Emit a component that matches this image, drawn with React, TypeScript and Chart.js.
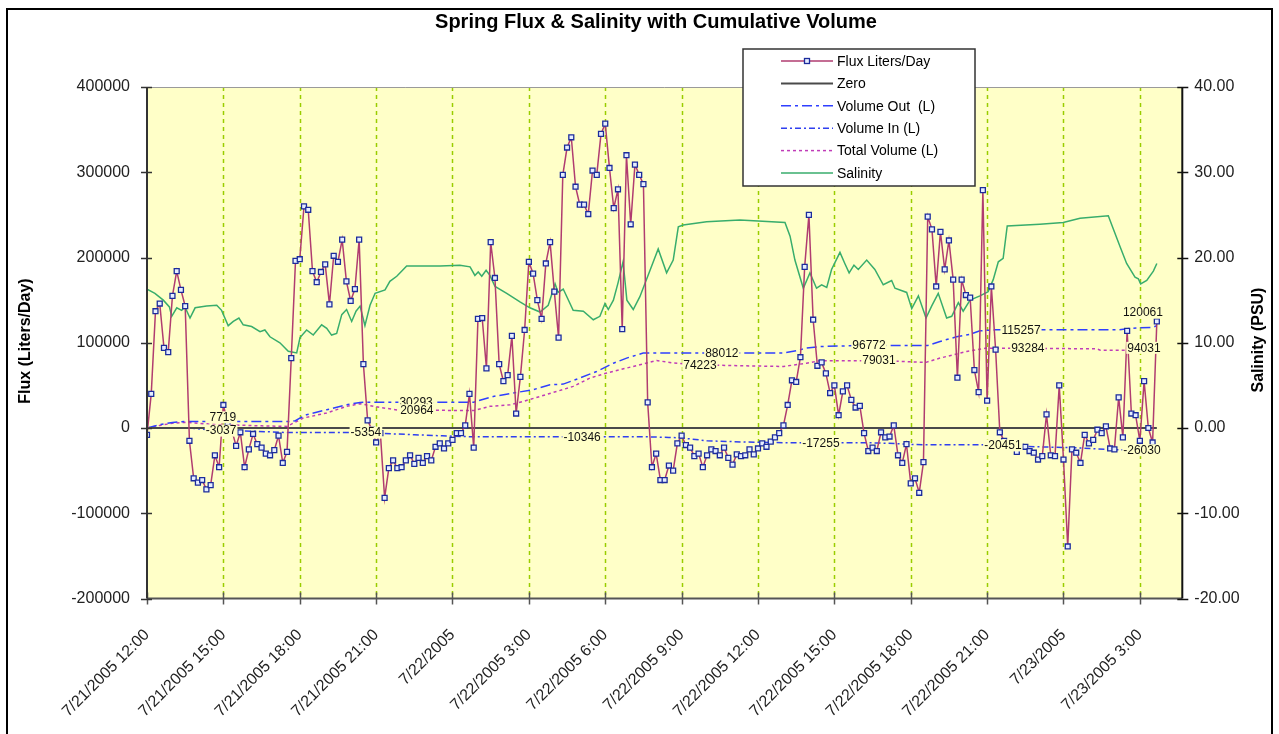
import React, { useEffect, useRef } from "react";
import { Chart, registerables } from "chart.js";

Chart.register(...registerables);

const FONT = "'Liberation Sans', Arial, sans-serif";

// ---------------- DATA ----------------
const titleText = "Spring Flux & Salinity with Cumulative Volume";
const leftAxisTitle = "Flux (Liters/Day)";
const rightAxisTitle = "Salinity (PSU)";

const xTickHours = [0, 3, 6, 9, 12, 15, 18, 21, 24, 27, 30, 33, 36, 39];
const xTickLabels = [
  "7/21/2005 12:00", "7/21/2005 15:00", "7/21/2005 18:00", "7/21/2005 21:00",
  "7/22/2005", "7/22/2005 3:00", "7/22/2005 6:00", "7/22/2005 9:00",
  "7/22/2005 12:00", "7/22/2005 15:00", "7/22/2005 18:00", "7/22/2005 21:00",
  "7/23/2005", "7/23/2005 3:00",
];
const xMinHour = 0;
const xMaxHour = 40.667;

const fluxTicks = [-200000, -100000, 0, 100000, 200000, 300000, 400000];
const salinityTicks = [-20, -10, 0, 10, 20, 30, 40];

// Flux sampled every 10 minutes from 7/21/2005 12:00
const fluxStepMinutes = 10;
const fluxValues = [
  -8000, 40000, 137000, 146000, 94000, 89000, 155000, 184000, 162000, 143000,
  -15000, -59000, -64000, -61000, -72000, -67000, -32000, -46000, 27000, 6000,
  -3000, -21000, -5000, -46000, -25000, -7000, -19000, -23000, -30000, -32000,
  -26000, -9000, -41000, -28000, 82000, 196000, 198000, 260000, 256000, 184000,
  171000, 183000, 192000, 145000, 202000, 195000, 221000, 172000, 149000, 163000,
  221000, 75000, 9000, -2000, -17000, -6000, -82000, -47000, -38000, -47000,
  -46000, -38000, -32000, -42000, -35000, -41000, -33000, -38000, -22000, -18000,
  -24000, -18000, -14000, -6000, -6000, 3000, 40000, -23000, 128000, 129000,
  70000, 218000, 176000, 75000, 55000, 62000, 108000, 17000, 60000, 115000,
  195000, 181000, 150000, 128000, 193000, 218000, 160000, 106000, 297000, 329000,
  341000, 283000, 262000, 262000, 251000, 302000, 297000, 345000, 357000, 305000,
  258000, 280000, 116000, 320000, 239000, 309000, 297000, 286000, 30000, -46000,
  -30000, -61000, -61000, -44000, -50000, -18000, -9000, -20000, -23000, -33000,
  -30000, -46000, -32000, -25000, -27000, -32000, -23000, -35000, -43000, -31000,
  -33000, -32000, -25000, -31000, -24000, -18000, -22000, -16000, -11000, -6000,
  3000, 27000, 56000, 54000, 83000, 189000, 250000, 127000, 73000, 77000,
  64000, 41000, 50000, 15000, 43000, 50000, 33000, 24000, 26000, -6000,
  -27000, -23000, -27000, -5000, -11000, -10000, 3000, -32000, -41000, -19000,
  -65000, -59000, -76000, -40000, 248000, 233000, 166000, 230000, 186000, 220000,
  174000, 59000, 174000, 156000, 153000, 68000, 42000, 279000, 32000, 166000,
  92000, -5000, -15000, -20000, -22000, -28000, -22000, -22000, -27000, -29000,
  -37000, -33000, 16000, -32000, -33000, 50000, -37000, -139000, -25000, -29000,
  -41000, -8000, -18000, -14000, -2000, -6000, 2000, -24000, -25000, 36000,
  -11000, 114000, 17000, 15000, -15000, 55000, 0, -17000, 125000,
];

const zeroHours = [0, 39.667];
const zeroValues = [0, 0];

const volumeOutHours = [
  0, 0.5, 1.0, 1.5, 5.67, 5.83, 6.0, 6.27, 7.06, 7.84, 8.37, 8.5, 12.83, 13.6, 14.39,
  15.17, 15.83, 16.35, 17.0, 17.66, 18.32, 18.84, 19.49, 19.67, 25.0, 25.5, 25.91,
  26.43, 28.0, 30.67, 31.15, 31.8, 32.33, 32.72, 33.33, 38.17, 38.5, 39.0, 39.5, 39.667,
];
const volumeOutValues = [
  0, 3900, 6500, 7719, 7719, 8500, 11500, 15600, 21400, 27300, 30000, 30293, 30293, 37000, 41000,
  45000, 50700, 51500, 58600, 66300, 76000, 82000, 87900, 88012, 88012, 90500, 93700,
  95600, 96772, 96772, 101500, 107000, 110000, 114000, 115257, 115257, 116500, 117500, 118000, 120061,
];

const volumeInHours = [
  0, 1.67, 2.2, 2.83, 3.33, 4.4, 5.5, 8.83, 9.6, 10.5, 11.6, 12.83, 19.67, 20.5, 21.0,
  22.0, 23.5, 25.0, 28.17, 29.0, 30.2, 33.0, 33.5, 34.3, 36.65, 37.9, 39.667,
];
const volumeInValues = [
  0, -100, -1400, -3037, -3100, -4000, -5354, -5354, -6800, -7900, -9200, -10346, -10346, -11000, -11700,
  -15000, -16500, -17255, -17255, -17800, -19500, -19600, -20451, -21500, -23400, -25400, -26030,
];

const totalVolumeHours = [
  0, 0.5, 1.0, 1.5, 2.0, 2.83, 3.5, 4.5, 5.5, 6.14, 7.06, 7.84, 8.37, 8.9, 9.94, 10.6,
  12.83, 13.47, 14.26, 14.78, 15.44, 16.09, 16.74, 17.4, 18.06, 18.84, 19.63, 20.02,
  20.67, 21.72, 23.29, 25.0, 25.91, 26.43, 28.75, 30.6, 31.15, 32.2, 32.98, 34.6,
  37.3, 37.45, 38.9, 39.667,
];
const totalVolumeValues = [
  0, 3000, 5500, 6600, 5500, 3900, 3500, 2500, 1900, 11700, 17600, 25400, 28500, 25400, 20600, 20964,
  20400, 25400, 27300, 31200, 37000, 42900, 48800, 58600, 64500, 70300, 76200, 79200,
  76200, 74223, 73000, 72200, 76000, 79000, 79031, 77000, 82000, 89800, 93700, 93284,
  93000, 91200, 91200, 94031,
];

const salinityHours = [
  0, 0.31, 0.64, 0.88, 0.97, 1.17, 1.36, 1.49, 1.69, 1.89, 2.34, 2.74, 2.93, 3.19, 3.39,
  3.61, 3.78, 4.11, 4.44, 4.63, 4.83, 5.22, 5.55, 5.88, 6.01, 6.27, 6.53, 6.86, 7.06,
  7.25, 7.45, 7.65, 7.84, 8.04, 8.21, 8.37, 8.56, 8.76, 8.96, 9.35, 9.54, 9.81, 10.2,
  11.51, 12.29, 12.69, 12.88, 13.01, 13.15, 13.32, 13.47, 13.67, 14.13, 14.65, 15.04,
  15.44, 15.76, 16.03, 16.15, 16.35, 16.74, 17.14, 17.53, 17.79, 17.99, 18.12, 18.32,
  18.5, 18.7, 18.85, 19.1, 19.36, 19.76, 20.08, 20.41, 20.67, 20.87, 21.06, 21.98,
  23.29, 25.06, 25.26, 25.45, 25.78, 26.04, 26.3, 26.5, 26.7, 26.89, 27.22, 27.41,
  27.58, 27.77, 27.94, 28.27, 28.59, 28.92, 29.25, 29.38, 29.84, 30.04, 30.3, 30.6,
  30.82, 31.08, 31.41, 31.61, 31.87, 32.06, 32.33, 32.72, 33.04, 33.24, 33.44, 33.63,
  33.79, 35.07, 35.99, 36.65, 37.76, 37.95, 38.22, 38.48, 38.81, 38.94, 39.03, 39.27,
  39.53, 39.667,
];
const salinityValues = [
  16.3, 15.8, 15.0, 14.2, 13.1, 14.1, 13.8, 14.2, 12.9, 14.1, 14.3, 14.4, 13.8, 12.0, 12.5,
  12.9, 12.1, 11.9, 11.3, 11.5, 10.7, 10.0, 9.0, 8.8, 10.6, 11.5, 10.9, 12.1, 11.7,
  10.9, 11.1, 13.3, 13.9, 12.5, 13.7, 14.3, 12.0, 14.4, 15.8, 16.2, 17.2, 17.8, 19.0,
  19.0, 19.1, 18.9, 17.9, 18.3, 17.8, 18.5, 17.9, 16.6, 15.8, 14.8, 14.1,
  13.6, 14.4, 16.9, 15.9, 16.3, 13.8, 13.7, 12.7, 13.1, 14.6, 13.9, 15.0,
  17.0, 19.5, 15.0, 13.9, 15.4, 18.5, 21.0, 18.2, 19.7, 23.6, 23.8, 24.2,
  24.4, 24.1, 22.5, 19.7, 16.4, 18.2, 16.4, 16.8, 16.5, 18.6, 20.6, 19.3,
  18.2, 19.1, 18.6, 19.7, 18.6, 16.8, 17.3, 16.4, 15.9, 14.0, 15.5, 12.9,
  14.3, 15.8, 12.9, 13.1, 14.7, 13.7, 15.0, 15.5, 16.0, 17.4, 19.5, 19.9,
  23.7, 23.9, 24.1, 24.6, 24.9, 23.4, 21.3, 19.3, 17.7, 17.5, 16.9, 17.3,
  18.4, 19.3,
];

// Data labels on the cumulative lines
const volumeOutLabelHours = [2.98, 10.57, 22.58, 28.36, 34.33, 39.12];
const volumeOutLabelValues = [7719, 30293, 88012, 96772, 115257, 120061];
const volumeInLabelHours = [2.91, 8.6, 17.09, 26.47, 33.62, 39.08];
const volumeInLabelValues = [-3037, -5354, -10346, -17255, -20451, -26030];
const totalLabelHours = [10.6, 21.72, 28.75, 34.6, 39.16];
const totalLabelValues = [20964, 74223, 79031, 93284, 94031];

// ---------------- STYLE ----------------
const PLOT_BG = "#FFFFC8";
const GRID_COLOR = "#9ACD00";
const FLUX_COLOR = "#B03C70";
const OUT_COLOR = "#2F3FFF";
const IN_COLOR = "#2F3FEF";
const TOTAL_COLOR = "#C03CB8";
const SAL_COLOR = "#38AD6C";

const pts = (xs: number[], ys: number[]) => ys.map((y, i) => ({ x: xs[i], y }));

const decorPlugin = {
  id: "decor",
  beforeDraw(chart: any) {
    const { ctx, chartArea: a } = chart;
    ctx.save();
    ctx.fillStyle = "#ffffff";
    ctx.fillRect(0, 0, chart.width, chart.height);
    ctx.fillStyle = PLOT_BG;
    ctx.fillRect(a.left, a.top, a.right - a.left, a.bottom - a.top);
    const xs = chart.scales.x;
    ctx.strokeStyle = GRID_COLOR;
    ctx.lineWidth = 1.5;
    ctx.setLineDash([4, 4]);
    xTickHours.forEach((h) => {
      if (h === xMinHour) return;
      const px = Math.round(xs.getPixelForValue(h)) + 0.5;
      ctx.beginPath();
      ctx.moveTo(px, a.top);
      ctx.lineTo(px, a.bottom);
      ctx.stroke();
    });
    ctx.restore();
  },
  afterDatasetsDraw(chart: any) {
    const { ctx } = chart;
    const xs = chart.scales.x;
    const ys = chart.scales.y;
    ctx.save();
    ctx.font = `12px ${FONT}`;
    ctx.textAlign = "center";
    ctx.textBaseline = "middle";
    const draw = (hrs: number[], vals: number[], dyFirst: number, dyLast: number) => {
      hrs.forEach((h, i) => {
        const px = xs.getPixelForValue(h);
        let py = ys.getPixelForValue(vals[i]);
        if (i === 0) py += dyFirst;
        if (i === hrs.length - 1) py += dyLast;
        const t = String(vals[i]);
        const w = ctx.measureText(t).width;
        ctx.fillStyle = PLOT_BG;
        ctx.fillRect(px - w / 2 - 1, py - 6, w + 2, 12);
        ctx.fillStyle = "#111";
        ctx.fillText(t, px, py + 0.5);
      });
    };
    draw(volumeOutLabelHours, volumeOutLabelValues, -4, -13);
    draw(volumeInLabelHours, volumeInLabelValues, 0, 0);
    draw(totalLabelHours, totalLabelValues, 0, 0);
    ctx.restore();
  },
  afterDraw(chart: any) {
    const { ctx, chartArea: a } = chart;
    const xs = chart.scales.x;
    const ys = chart.scales.y;
    const y1 = chart.scales.y1;
    ctx.save();
    ctx.setLineDash([]);
    // top border of plot
    ctx.strokeStyle = "#9a9a9a";
    ctx.lineWidth = 1;
    ctx.beginPath();
    ctx.moveTo(a.left, a.top + 0.5);
    ctx.lineTo(a.right, a.top + 0.5);
    ctx.stroke();
    // bottom axis
    ctx.strokeStyle = "#555";
    ctx.lineWidth = 2;
    ctx.beginPath();
    ctx.moveTo(a.left, a.bottom);
    ctx.lineTo(a.right, a.bottom);
    ctx.stroke();
    ctx.lineWidth = 1.5;
    xTickHours.forEach((h) => {
      const px = Math.round(xs.getPixelForValue(h)) + 0.5;
      ctx.beginPath();
      ctx.moveTo(px, a.bottom - 6);
      ctx.lineTo(px, a.bottom + 6);
      ctx.stroke();
    });
    // left axis
    ctx.strokeStyle = "#333";
    ctx.lineWidth = 2;
    ctx.beginPath();
    ctx.moveTo(a.left, a.top);
    ctx.lineTo(a.left, a.bottom);
    ctx.stroke();
    ctx.lineWidth = 1.5;
    fluxTicks.forEach((v) => {
      const py = Math.round(ys.getPixelForValue(v)) + 0.5;
      ctx.beginPath();
      ctx.moveTo(a.left - 6, py);
      ctx.lineTo(a.left + 5, py);
      ctx.stroke();
    });
    // right axis
    ctx.strokeStyle = "#111";
    ctx.lineWidth = 2;
    ctx.beginPath();
    ctx.moveTo(a.right, a.top);
    ctx.lineTo(a.right, a.bottom);
    ctx.stroke();
    ctx.lineWidth = 1.5;
    salinityTicks.forEach((v) => {
      const py = Math.round(y1.getPixelForValue(v)) + 0.5;
      ctx.beginPath();
      ctx.moveTo(a.right - 5, py);
      ctx.lineTo(a.right + 6, py);
      ctx.stroke();
    });

    // title
    ctx.fillStyle = "#000";
    ctx.font = `bold 20px ${FONT}`;
    ctx.textAlign = "center";
    ctx.textBaseline = "middle";
    ctx.fillText(titleText, 656, 22);

    // axis titles
    ctx.font = `bold 16px ${FONT}`;
    ctx.save();
    ctx.translate(26, 341);
    ctx.rotate(-Math.PI / 2);
    ctx.fillText(leftAxisTitle, 0, 0);
    ctx.restore();
    ctx.save();
    ctx.translate(1259, 340);
    ctx.rotate(-Math.PI / 2);
    ctx.fillText(rightAxisTitle, 0, 0);
    ctx.restore();

    // legend
    const lx = 743, ly = 49, lw = 232, lh = 137;
    ctx.fillStyle = "#fff";
    ctx.fillRect(lx, ly, lw, lh);
    ctx.strokeStyle = "#333";
    ctx.lineWidth = 1.5;
    ctx.strokeRect(lx, ly, lw, lh);
    ctx.font = `14px ${FONT}`;
    ctx.textAlign = "left";
    chart.data.datasets.forEach((ds: any, i: number) => {
      const ry = 61 + i * 22.4;
      ctx.save();
      ctx.strokeStyle = ds.borderColor;
      ctx.lineWidth = ds.borderWidth;
      ctx.setLineDash(ds.borderDash || []);
      ctx.beginPath();
      ctx.moveTo(781, ry);
      ctx.lineTo(833, ry);
      ctx.stroke();
      ctx.setLineDash([]);
      if (ds.pointRadius > 0) {
        ctx.fillStyle = ds.pointBackgroundColor;
        ctx.strokeStyle = ds.pointBorderColor;
        ctx.lineWidth = ds.pointBorderWidth;
        ctx.fillRect(804.5, ry - 2.5, 5, 5);
        ctx.strokeRect(804.5, ry - 2.5, 5, 5);
      }
      ctx.restore();
      ctx.fillStyle = "#000";
      ctx.fillText(ds.label, 837, ry + 1);
    });

    // chart border
    ctx.strokeStyle = "#000";
    ctx.lineWidth = 2;
    ctx.strokeRect(7, 9, 1265, 760);
    ctx.restore();
  },
};

export default function App() {
  const ref = useRef<HTMLCanvasElement>(null);
  useEffect(() => {
    if (!ref.current) return;
    const fluxPoints = fluxValues.map((v, i) => ({ x: (i * fluxStepMinutes) / 60, y: v }));
    const chart = new Chart(ref.current, {
      type: "line",
      data: {
        datasets: [
          {
            label: "Flux Liters/Day",
            data: fluxPoints,
            yAxisID: "y",
            borderColor: FLUX_COLOR,
            borderWidth: 1.5,
            pointStyle: "rect",
            pointRadius: 3.5,
            pointBorderWidth: 1.3,
            pointBorderColor: "#1C2C9C",
            pointBackgroundColor: "#E6EEFF",
          },
          {
            label: "Zero",
            data: pts(zeroHours, zeroValues),
            yAxisID: "y",
            borderColor: "#4a4a4a",
            borderWidth: 2,
            pointRadius: 0,
          },
          {
            label: "Volume Out  (L)",
            data: pts(volumeOutHours, volumeOutValues),
            yAxisID: "y",
            borderColor: OUT_COLOR,
            borderWidth: 1.5,
            borderDash: [10, 4, 3, 4],
            pointRadius: 0,
          },
          {
            label: "Volume In (L)",
            data: pts(volumeInHours, volumeInValues),
            yAxisID: "y",
            borderColor: IN_COLOR,
            borderWidth: 1.5,
            borderDash: [6, 3, 2, 3],
            pointRadius: 0,
          },
          {
            label: "Total Volume (L)",
            data: pts(totalVolumeHours, totalVolumeValues),
            yAxisID: "y",
            borderColor: TOTAL_COLOR,
            borderWidth: 1.5,
            borderDash: [3, 3],
            pointRadius: 0,
          },
          {
            label: "Salinity",
            data: pts(salinityHours, salinityValues),
            yAxisID: "y1",
            borderColor: SAL_COLOR,
            borderWidth: 1.5,
            pointRadius: 0,
          },
        ],
      } as any,
      options: {
        responsive: false,
        animation: false,
        parsing: false as any,
        layout: { padding: { top: 87, left: 0, right: 0, bottom: 0 } },
        plugins: {
          legend: { display: false },
          title: { display: false },
          tooltip: { enabled: false },
        },
        elements: { line: { tension: 0 } },
        scales: {
          x: {
            type: "linear",
            min: xMinHour,
            max: xMaxHour,
            grid: { display: false, drawTicks: false },
            border: { display: false },
            afterBuildTicks: (s: any) => {
              s.ticks = xTickHours.map((v) => ({ value: v }));
            },
            afterFit: (s: any) => {
              s.height = 734 - 598.5;
            },
            ticks: {
              autoSkip: false,
              minRotation: 45,
              maxRotation: 45,
              padding: 27,
              color: "#222",
              font: { family: FONT, size: 16 },
              callback: (v: any) => {
                const i = xTickHours.indexOf(Number(v));
                return i >= 0 ? xTickLabels[i] : "";
              },
            },
          },
          y: {
            type: "linear",
            position: "left",
            min: -200000,
            max: 400000,
            grid: { display: false, drawTicks: false },
            border: { display: false },
            afterBuildTicks: (s: any) => {
              s.ticks = fluxTicks.map((v) => ({ value: v }));
            },
            afterFit: (s: any) => {
              s.width = 147;
            },
            ticks: {
              padding: 17,
              color: "#222",
              font: { family: FONT, size: 16 },
              callback: (v: any) => String(v),
            },
          },
          y1: {
            type: "linear",
            position: "right",
            min: -20,
            max: 40,
            grid: { display: false, drawTicks: false },
            border: { display: false },
            afterBuildTicks: (s: any) => {
              s.ticks = salinityTicks.map((v) => ({ value: v }));
            },
            afterFit: (s: any) => {
              s.width = 1279 - 1182.3;
            },
            ticks: {
              padding: 12,
              color: "#222",
              font: { family: FONT, size: 16 },
              callback: (v: any) => Number(v).toFixed(2),
            },
          },
        },
      } as any,
      plugins: [decorPlugin],
    });
    return () => chart.destroy();
  }, []);
  return (
    <div style={{ position: "fixed", left: 0, top: 0, width: 1279, height: 734, background: "#fff" }}>
      <canvas ref={ref} width={1279} height={734} style={{ display: "block", width: 1279, height: 734 }} />
    </div>
  );
}
